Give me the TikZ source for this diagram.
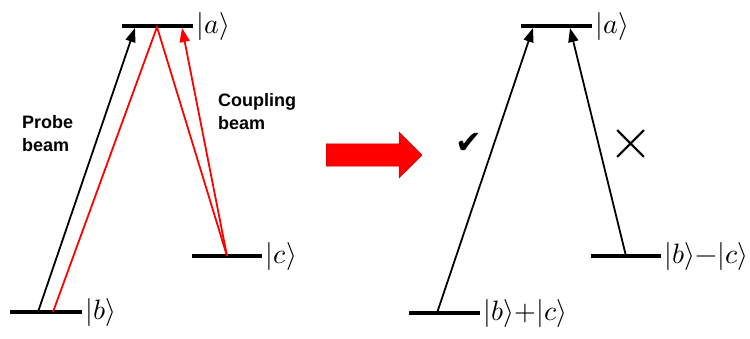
\documentclass[tikz,border=0pt]{standalone}
\usepackage{amsmath}
\usepackage{fontspec}
\usepackage{unicode-math}
\setsansfont{Liberation Sans}
\newfontfamily\symbfont{DejaVu Sans}
\usepackage{tikz}
\usetikzlibrary{shapes,arrows.meta,positioning,calc}

\begin{document}
\begin{tikzpicture}[
        x=1pt, y=-1pt,
        level/.style={draw, line width=4pt},
        ket/.style={anchor=west, inner sep=1.5pt, font=\fontsize{28}{32}\selectfont},
        beamlabel/.style={anchor=west, align=left, inner sep=0pt,
                          font=\sffamily\bfseries\fontsize{18}{23}\selectfont},
        arrow/.style={draw, line width=1.8pt, -{Triangle[length=14pt,width=10pt]}},
        redline/.style={draw=red, line width=1.8pt},
        redarrow/.style={redline, -{Triangle[length=14pt,width=10pt]}}
    ]
        \useasboundingbox (0,0) rectangle (750,338);
        % left: three-level scheme
        \coordinate (aL) at (122,26);  \coordinate (aR) at (193,26);
        \coordinate (bL) at (10,312);  \coordinate (bR) at (82,312);
        \coordinate (cL) at (192,256); \coordinate (cR) at (262,256);
        \path[level] (aL) -- (aR) node[ket] (ka) {$|a\rangle$};
        \path[level] (bL) -- (bR) node[ket] (kb) {$|b\rangle$};
        \path[level] (cL) -- (cR) node[ket] (kc) {$|c\rangle$};
        \coordinate (pb) at (38,312);  \coordinate (pa) at (135,28);
        \coordinate (rb) at (53,312);  \coordinate (ra) at (157,27);
        \coordinate (rc) at (227,256); \coordinate (rt) at (182,28);
        \path[arrow] (pb) -- (pa);
        \path[redline] (rb) -- (ra) -- (rc);
        \path[redarrow] (rc) -- (rt);
        \node[beamlabel] (probe) at (22,134) {Probe\\beam};
        \node[beamlabel] (coupling) at (218,112) {Coupling\\beam};

        % big arrow
        \node[single arrow, fill=red, draw=red!70!black, inner sep=11pt,
              minimum height=96pt, single arrow head extend=12pt,
              anchor=west] (go) at (326,155) {};

        % right: dressed states
        \coordinate (a2L) at (521,26);  \coordinate (a2R) at (592,26);
        \coordinate (pL) at (409,313);  \coordinate (pR) at (480,313);
        \coordinate (mL) at (591,256);  \coordinate (mR) at (661,256);
        \path[level] (a2L) -- (a2R) node[ket] (ka2) {$|a\rangle$};
        \path[level] (pL) -- (pR) node[ket] (kp) {$|b\rangle{+}|c\rangle$};
        \path[level] (mL) -- (mR) node[ket] (km) {$|b\rangle{-}|c\rangle$};
        \coordinate (pp) at (437,313); \coordinate (pa2) at (533,28);
        \coordinate (mm) at (626,256); \coordinate (ma2) at (570,28);
        \path[arrow] (pp) -- (pa2);
        \path[arrow] (mm) -- (ma2);
        \node[font=\symbfont\fontsize{32}{32}\selectfont] (yes) at (469,143) {✔};
        \node[font=\fontsize{58}{58}\selectfont] (no) at (631,144) {$\times$};
    \end{tikzpicture}
\end{document}
